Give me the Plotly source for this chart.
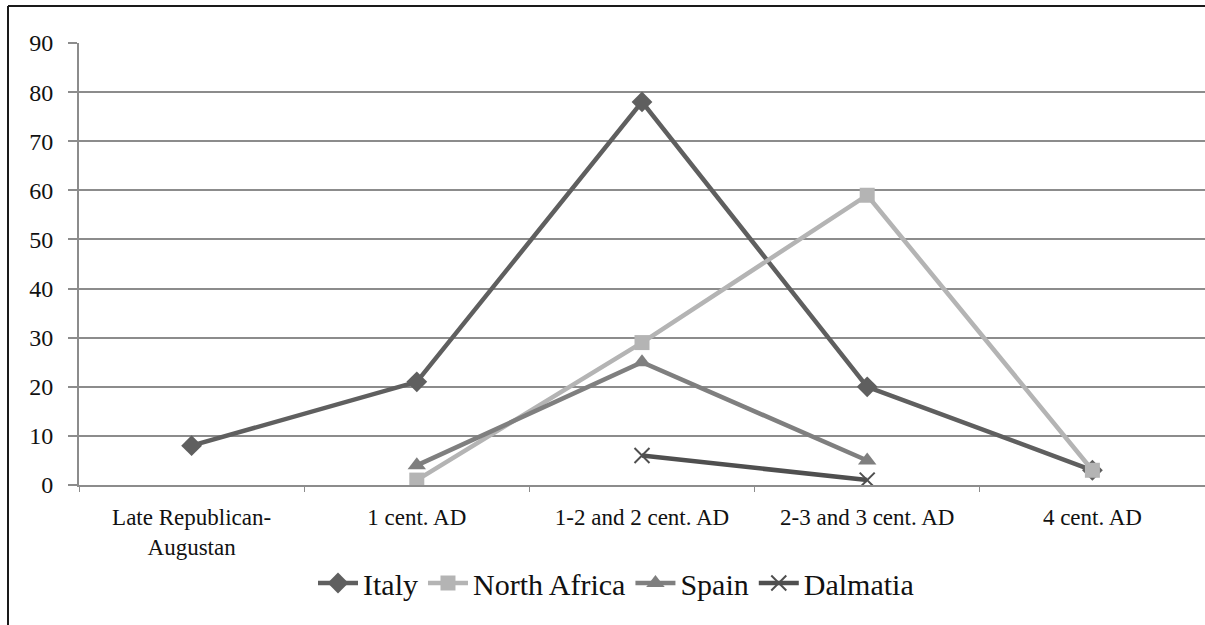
import plotly.graph_objects as go

categories = ["Late Republican-<br>Augustan", "1 cent. AD", "1-2 and 2 cent. AD",
              "2-3 and 3 cent. AD", "4 cent. AD"]
italy = [8, 21, 78, 20, 3]
north_africa = [None, 1, 29, 59, 3]
spain = [None, 4, 25, 5, None]
dalmatia = [None, None, 6, 1, None]
y_ticks = [0, 10, 20, 30, 40, 50, 60, 70, 80, 90]

FONT = "Liberation Serif"
W, H = 1205, 625
L, T, B, R = 79, 43, 140, 0
pw = W - L - R
ph = H - T - B

fig = go.Figure()
series = [
    ("Italy", italy, "#5f5f5f", "diamond", 16),
    ("North Africa", north_africa, "#b4b4b4", "square", 15),
    ("Spain", spain, "#7f7f7f", "triangle-up", 16),
    ("Dalmatia", dalmatia, "#4f4f4f", "x-thin", 15),
]
for name, vals, col, sym, sz in series:
    fig.add_trace(go.Scatter(
        x=categories, y=vals, name=name, mode="lines+markers",
        line=dict(color=col, width=4.5),
        marker=dict(symbol=sym, size=sz, color=col,
                    line=dict(color=col, width=2 if sym == "x-thin" else 0)),
        connectgaps=False,
    ))

def px_x(x):
    return (x - L) / pw

def px_y(y):
    return 1 - (y - T) / ph

# outer frame (left and top edges visible)
fig.add_shape(type="line", xref="paper", yref="paper",
              x0=px_x(8), x1=px_x(1210), y0=px_y(6), y1=px_y(6),
              line=dict(color="#1a1a1a", width=2))
fig.add_shape(type="line", xref="paper", yref="paper",
              x0=px_x(8), x1=px_x(8), y0=px_y(6), y1=px_y(630),
              line=dict(color="#1a1a1a", width=2))

fig.update_layout(
    width=W, height=H,
    margin=dict(l=L, r=R, t=T, b=B),
    paper_bgcolor="white", plot_bgcolor="white",
    font=dict(family=FONT, color="#111111"),
    showlegend=True,
    legend=dict(orientation="h", x=px_x(616), xanchor="center", y=px_y(583), yanchor="middle",
                font=dict(size=30, family=FONT, color="#111111"),
                itemwidth=40, tracegroupgap=0),
    xaxis=dict(type="category", range=[-0.5, 4.5], showgrid=False,
               showline=True, linecolor="#8c8c8c", linewidth=2,
               ticks="outside", tickson="boundaries", ticklen=5, tickcolor="#8c8c8c",
               tickwidth=1, ticklabelstandoff=10,
               tickfont=dict(size=23, family=FONT, color="#111111"),
               zeroline=False),
    yaxis=dict(range=[0, 90], tickvals=y_ticks, showgrid=True,
               gridcolor="#8c8c8c", gridwidth=2,
               showline=True, linecolor="#8c8c8c", linewidth=2,
               ticks="outside", ticklen=9, tickcolor="#8c8c8c", tickwidth=2,
               ticklabelstandoff=10,
               tickfont=dict(size=24, family=FONT, color="#111111"),
               zeroline=False),
)

fig.write_html("out.html", config={"displayModeBar": False},
               post_script="document.body.style.margin='0';")
